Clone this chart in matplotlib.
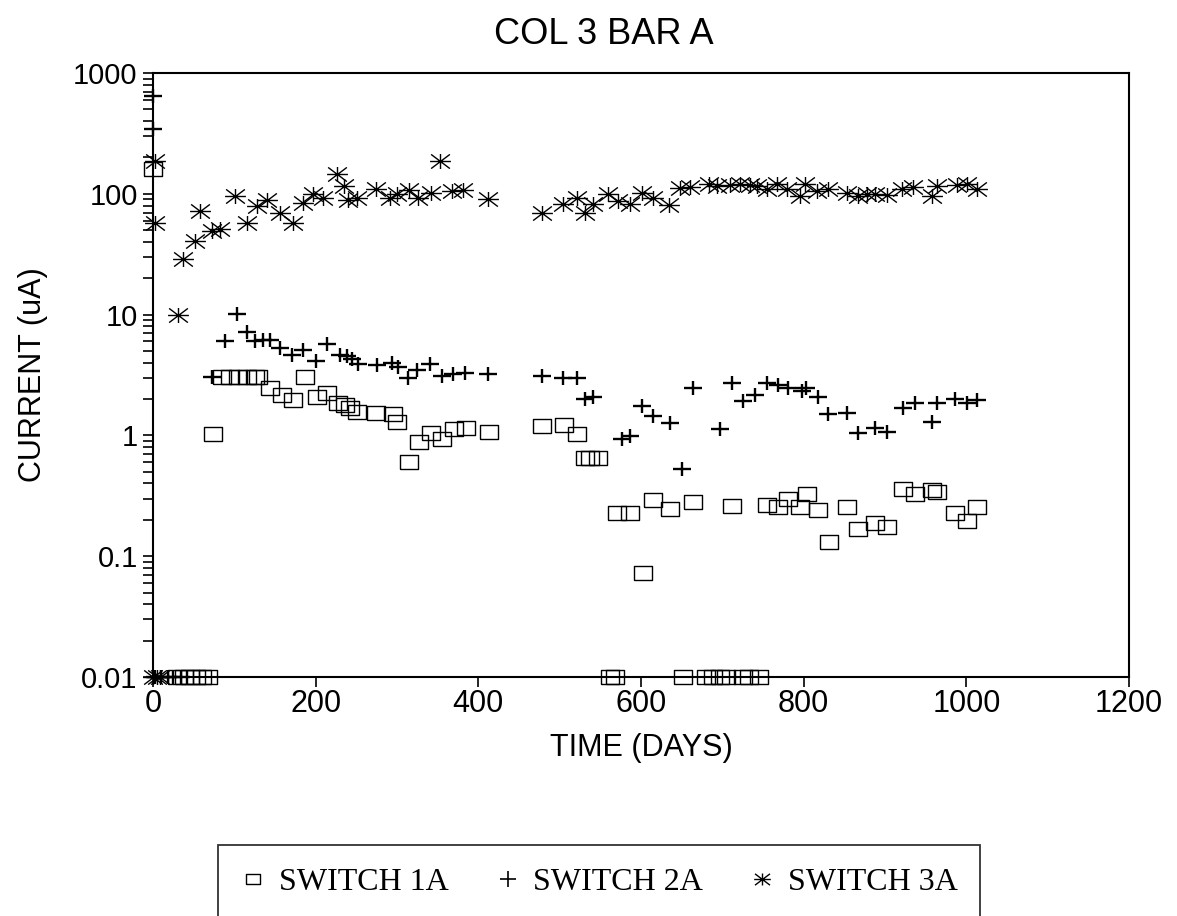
import matplotlib
matplotlib.use("Agg")
import matplotlib.pyplot as plt
from matplotlib.path import Path
from matplotlib.lines import Line2D

# switch 1A (squares) - zero readings drawn at 0.01
days1 = [0, 30, 38, 45, 53, 60, 68, 74, 85, 95, 105, 116, 125, 129, 144, 159, 172, 187,
         202, 214, 228, 236, 242, 251, 274, 295, 300, 315, 327, 342, 355, 370, 385, 413,
         478, 505, 521, 531, 537, 547, 562, 568, 571, 586, 602, 615, 636, 652, 664,
         680, 688, 697, 705, 712, 725, 733, 745, 755, 769, 781, 796, 804, 818, 831, 853,
         867, 888, 902, 922, 937, 958, 964, 986, 1001, 1013]
cur1 = [160, .01, .01, .01, .01, .01, .01, 1.02, 3.07, 3.07, 3.07, 3.07, 3.07, 3.07,
        2.49, 2.18, 1.95, 3.07, 2.06, 2.23, 1.84, 1.8, 1.7, 1.55, 1.52, 1.49, 1.3, 0.6,
        0.89, 1.04, 0.93, 1.12, 1.16, 1.06, 1.19, 1.21, 1.02, 0.65, 0.65, 0.65,
        .01, .01, 0.226, 0.226, 0.072, 0.29, 0.245, .01, 0.28,
        .01, .01, .01, .01, 0.26, .01, .01, .01, 0.264, 0.254, 0.30, 0.254, 0.33, 0.24,
        0.131, 0.254, 0.167, 0.187, 0.174, 0.36, 0.33, 0.35, 0.34, 0.23, 0.195, 0.254]

# switch 2A (plus)
days2 = [0, 0, 2, 10, 18, 25, 35, 72, 88, 103, 115, 125, 135, 144, 156, 171, 185, 201,
         214, 230, 238, 245, 252, 275, 294, 301, 314, 324, 341, 355, 369, 384, 412,
         478, 504, 521, 531, 541, 577, 586, 601, 615, 636, 650, 664, 697, 712, 726, 740,
         755, 769, 781, 798, 803, 818, 830, 853, 867, 888, 902, 922, 937, 958, 964, 986,
         1001, 1013]
cur2 = [646, 346, .01, .01, .01, .01, .01, 3.07, 6.1, 10.2, 7.2, 6.1, 6.2, 6.2, 5.3,
        4.6, 5.1, 4.1, 5.76, 4.6, 4.5, 4.3, 3.9, 3.86, 4.0, 3.7, 3.0, 3.5, 3.9, 3.1,
        3.25, 3.3, 3.2, 3.1, 3.0, 2.96, 2.02, 2.06, 0.94, 0.98, 1.74, 1.46, 1.26, 0.53,
        2.49, 1.12, 2.74, 1.91, 2.18, 2.69, 2.59, 2.49, 2.35, 2.45, 2.06, 1.49, 1.52,
        1.04, 1.16, 1.06, 1.67, 1.84, 1.28, 1.87, 2.02, 1.84, 1.95]

# switch 3A (asterisk)
days3 = [0, 2, 3, 5, 8, 31, 37, 52, 58, 72, 82, 101, 115, 128, 140, 156, 172, 185, 197,
         209, 226, 235, 240, 251, 274, 291, 300, 315, 326, 342, 353, 368, 381, 412,
         478, 504, 521, 531, 541, 560, 572, 586, 601, 615, 635, 648, 660, 683, 693, 709,
         722, 734, 743, 755, 767, 780, 796, 802, 816, 830, 853, 867, 878, 888, 902, 921,
         935, 958, 964, 988, 1001, 1013]
cur3 = [.01, 187, 57, .01, .01, 10, 29, 41, 72, 49, 51, 96, 57, 80, 89, 70, 57, 84, 100,
        93, 146, 116, 89, 93, 110, 93, 100, 108, 93, 102, 187, 106, 108, 91,
        70, 82, 93, 70, 82, 100, 87, 82, 102, 93, 81, 112, 114, 121, 116, 118,
        121, 118, 116, 110, 121, 110, 95, 121, 106, 110, 102, 96, 100, 100, 98, 110,
        114, 96, 116, 118, 121, 110]

ytick_vals = [0.01, 0.1, 1, 10, 100, 1000]
ytick_text = ["0.01", "0.1", "1", "10", "100", "1000"]
xtick_vals = [0, 200, 400, 600, 800, 1000, 1200]
labels = ["SWITCH 1A", "SWITCH 2A", "SWITCH 3A"]

# wide markers like the old plotter glyphs
M, L = Path.MOVETO, Path.LINETO
box = Path([(-1, -0.72), (1, -0.72), (1, 0.72), (-1, 0.72), (-1, -0.72)],
           [M, L, L, L, L])
plus = Path([(-1, 0), (1, 0), (0, -0.7), (0, 0.7)], [M, L, M, L])
star = Path([(-1, 0), (1, 0), (0, -0.72), (0, 0.72),
             (-0.9, -0.68), (0.9, 0.68), (-0.9, 0.68), (0.9, -0.68)],
            [M, L, M, L, M, L, M, L])

plt.rcParams['font.family'] = ['Liberation Sans', 'DejaVu Sans']

fig = plt.figure(figsize=(11.77, 9.16), dpi=100)
ax = fig.add_axes([153 / 1177, 1 - 677 / 916, (1129 - 153) / 1177, (677 - 73) / 916])

ax.plot(days1, cur1, linestyle='none', marker=box, ms=13.5, mfc='none', mec='black',
        mew=1.0, clip_on=False)
ax.plot(days2, cur2, linestyle='none', marker=plus, ms=13.5, mec='black', mew=1.7,
        clip_on=False)
ax.plot(days3, cur3, linestyle='none', marker=star, ms=15, mec='black', mew=1.0,
        clip_on=False)

ax.set_yscale('log')
ax.set_ylim(0.01, 1000)
ax.set_xlim(0, 1200)
ax.set_yticks(ytick_vals)
ax.set_yticklabels(ytick_text)
ax.set_xticks(xtick_vals)
ax.tick_params(axis='both', which='both', direction='out', length=7, width=1.2,
               color='black')
ax.tick_params(axis='y', labelsize=21, pad=4)
ax.tick_params(axis='x', labelsize=22, pad=2)
for s in ax.spines.values():
    s.set_linewidth(1.5)

ax.set_xlabel("TIME (DAYS)", fontsize=22, labelpad=10)
ax.set_ylabel("CURRENT (uA)", fontsize=22, labelpad=18)
fig.text(604 / 1177, 1 - 44 / 916, "COL 3 BAR A", fontsize=26, ha='center',
         va='baseline')

handles = [Line2D([], [], linestyle='none', marker=box, ms=10, mfc='none', mec='black', mew=1.0),
           Line2D([], [], linestyle='none', marker='+', ms=11, mec='black', mew=1.2),
           Line2D([], [], linestyle='none', marker=star, ms=12, mec='black', mew=1.0)]
leg = fig.legend(handles, labels, loc='upper left', ncol=3, mode='expand',
                 bbox_to_anchor=(218 / 1177, 0, (980 - 218) / 1177, 1 - 845 / 916),
                 prop={'family': 'Liberation Serif', 'size': 23},
                 frameon=True, fancybox=False, edgecolor='black', borderpad=0.7,
                 handlelength=0.8, handletextpad=0.4, columnspacing=1.5,
                 borderaxespad=0)
leg.get_frame().set_linewidth(1.3)

fig.savefig("out.png", dpi=100)
